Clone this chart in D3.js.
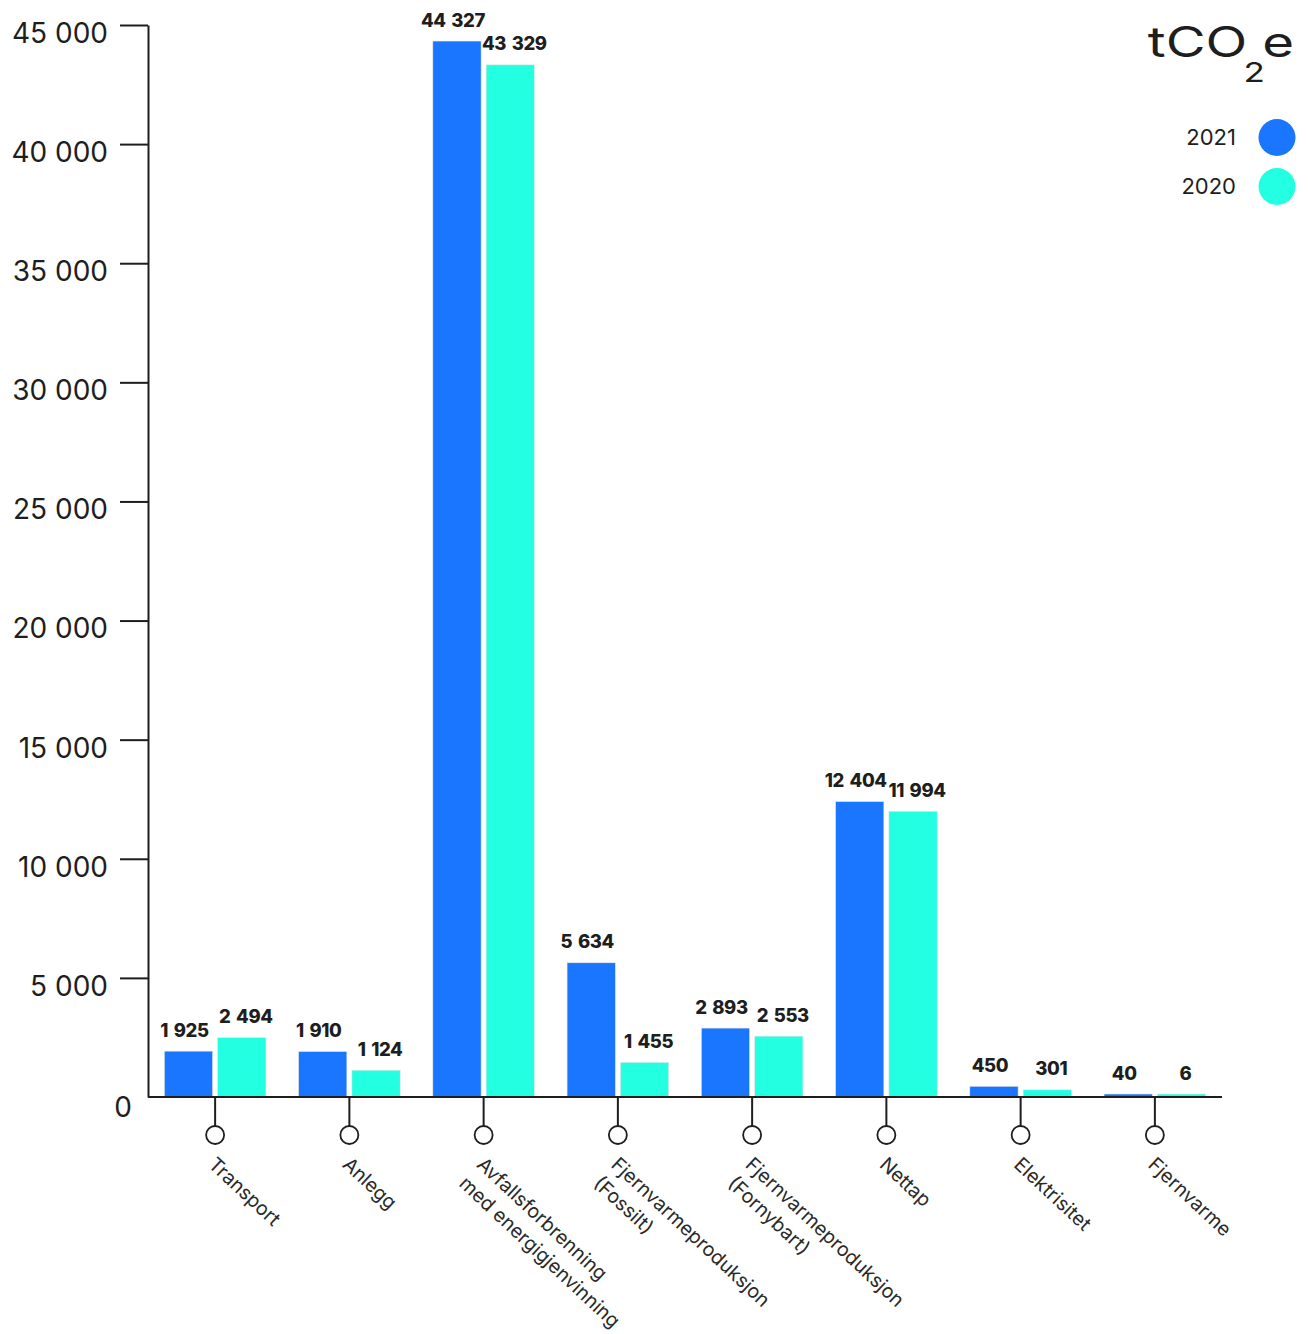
<!DOCTYPE html>
<html>
<head>
<meta charset="utf-8">
<script src="https://cdn.jsdelivr.net/npm/d3@7"></script>
<style>
  body { margin: 0; background: #fff; }
  svg { display: block; }
  text { font-family: Inter, "Noto Sans", sans-serif; }
</style>
</head>
<body>
<svg id="chart" width="1308" height="1334"></svg>
<script>
// Emissions per source, tonnes CO2-equivalent
const categories = [
  "Transport", "Anlegg", "Avfallsforbrenning med energigjenvinning",
  "Fjernvarmeproduksjon (Fossilt)", "Fjernvarmeproduksjon (Fornybart)",
  "Nettap", "Elektrisitet", "Fjernvarme"
];
const categoryLines = [
  ["Transport"], ["Anlegg"], ["Avfallsforbrenning", "med energigjenvinning"],
  ["Fjernvarmeproduksjon", "(Fossilt)"], ["Fjernvarmeproduksjon", "(Fornybart)"],
  ["Nettap"], ["Elektrisitet"], ["Fjernvarme"]
];
const years = ["2021", "2020"];
const values2021 = [1925, 1910, 44327, 5634, 2893, 12404, 450, 40];
const values2020 = [2494, 1124, 43329, 1455, 2553, 11994, 301, 6];
const yTicks = [0, 5000, 10000, 15000, 20000, 25000, 30000, 35000, 40000, 45000];
const yearColors = ["#1a75ff", "#22ffe1"];

const svg = d3.select("#chart");
const plotLeft = 148, plotRight = 1222, plotTop = 25, plotBottom = 1097;
const ink = "#1e1e1e";

const seriesByYear = { "2021": values2021, "2020": values2020 };

const x0 = d3.scaleBand().domain(categories).range([plotLeft, plotRight]).padding(0);
const x1 = d3.scaleBand().domain(years).range([0, x0.bandwidth()])
  .paddingInner(0.094).paddingOuter(0.306);
const y = d3.scaleLinear().domain([0, 45000]).range([plotBottom, plotTop]);
const color = d3.scaleOrdinal().domain(years).range(yearColors);

const locale = d3.formatLocale({ decimal: ",", thousands: " ", grouping: [3], currency: ["", " kr"] });
const fmt = locale.format(",d");

// Bars
const rows = categories.map((c, i) => ({
  cat: c,
  bars: years.map(yr => ({ cat: c, year: yr, value: seriesByYear[yr][i] }))
}));

const minH = 3;
const barTop = d => Math.min(y(d.value), plotBottom - minH);

const groups = svg.append("g").selectAll("g").data(rows).join("g")
  .attr("transform", d => `translate(${x0(d.cat)},0)`);

groups.selectAll("rect").data(d => d.bars).join("rect")
  .attr("x", d => x1(d.year))
  .attr("width", x1.bandwidth())
  .attr("y", d => barTop(d))
  .attr("height", d => plotBottom - barTop(d))
  .attr("fill", d => color(d.year))
  .attr("stroke", "#e6e6e6")
  .attr("stroke-width", 0.6);

// Value labels above each bar, nudged apart so neighbours don't collide
const labelNudge = { "2021": -4, "2020": 4 };
groups.selectAll("text.val").data(d => d.bars).join("text")
  .attr("class", "val")
  .attr("x", d => x1(d.year) + x1.bandwidth() / 2 + labelNudge[d.year])
  .attr("y", d => barTop(d) - 14.5)
  .attr("text-anchor", "middle")
  .attr("font-size", 18.5)
  .attr("font-weight", 800)
  .attr("letter-spacing", -0.4)
  .attr("word-spacing", 2)
  .attr("fill", ink)
  .text(d => fmt(d.value));

// Y axis
const yAxis = svg.append("g")
  .attr("transform", `translate(${plotLeft},0)`)
  .call(d3.axisLeft(y).tickValues(yTicks).tickSize(28).tickSizeOuter(0)
    .tickPadding(12).tickFormat(fmt));
yAxis.select(".domain").attr("stroke", ink).attr("stroke-width", 2);
yAxis.selectAll(".tick line").attr("stroke", ink).attr("stroke-width", 2);
yAxis.selectAll(".tick text")
  .attr("font-family", "Inter, sans-serif")
  .attr("font-size", 28)
  .attr("fill", ink)
  .attr("dy", "0.62em");
yAxis.selectAll(".tick").filter(d => d === 0).each(function () {
  d3.select(this).select("line").remove();
  d3.select(this).select("text").attr("x", -16).attr("dy", "0.7em");
});

// X axis baseline with stem-and-circle ticks
svg.append("line")
  .attr("x1", plotLeft).attr("x2", plotRight).attr("y1", plotBottom).attr("y2", plotBottom)
  .attr("stroke", ink).attr("stroke-width", 2);

const xt = svg.append("g").selectAll("g").data(categories).join("g")
  .attr("transform", d => `translate(${x0(d) + x0.bandwidth() / 2},0)`);
xt.append("line")
  .attr("y1", plotBottom).attr("y2", plotBottom + 29)
  .attr("stroke", ink).attr("stroke-width", 2);
xt.append("circle")
  .attr("cy", plotBottom + 38).attr("r", 9)
  .attr("fill", "#fff").attr("stroke", ink).attr("stroke-width", 1.8);

// Rotated category labels
xt.append("text")
  .attr("transform", `translate(-8,${plotBottom + 69}) rotate(43)`)
  .attr("font-size", 19.6)
  .attr("fill", "#2a2a2a")
  .selectAll("tspan")
  .data((d, i) => categoryLines[i])
  .join("tspan")
  .attr("x", 0)
  .attr("dy", (d, i) => i === 0 ? 0 : 26)
  .text(d => d);

// Unit title (stretched wide) and legend
const title = svg.append("g")
  .attr("transform", "translate(1294,57) scale(1.3,1)")
  .append("text")
  .attr("text-anchor", "end")
  .attr("font-size", 42)
  .attr("fill", ink);
title.append("tspan").text("tCO");
title.append("tspan").attr("font-size", 27).attr("dx", -3).attr("dy", 25).text("2");
title.append("tspan").attr("dx", -2).attr("dy", -25).text("e");

const legend = svg.append("g").selectAll("g").data(years).join("g")
  .attr("transform", (d, i) => `translate(0,${137.5 + i * 49})`);
legend.append("circle")
  .attr("cx", 1277).attr("r", 18.5)
  .attr("fill", d => color(d));
legend.append("text")
  .attr("x", 1236).attr("y", 7)
  .attr("text-anchor", "end")
  .attr("font-size", 22)
  .attr("fill", ink)
  .text(d => d);
</script>
</body>
</html>
